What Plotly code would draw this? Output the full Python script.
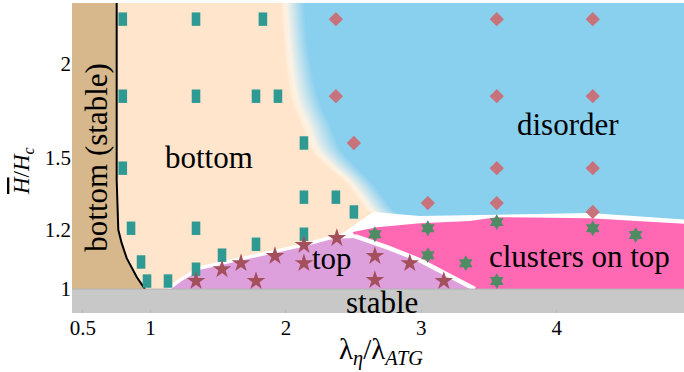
import numpy as np
import plotly.graph_objects as go

# ---- axes -------------------------------------------------------------
x_range = [0.42, 4.94]
y_range = [0.929, 2.413]          # log axis
x_ticks = [0.5, 1, 2, 3, 4]
x_ticktext = ["0.5", "1", "2", "3", "4"]
y_ticks = [1, 1.2, 1.5, 2]
y_ticktext = ["1", "1.2", "1.5", "2"]

# ---- simulation points, grouped by observed state ---------------------
bottom_x = [0.795, 1.336, 1.830, 0.795, 1.336, 1.779, 1.941, 0.795, 2.133, 2.133,
            2.369, 2.502, 0.856, 1.336, 2.133, 1.779, 1.528, 0.930, 1.336, 0.974, 1.129]
bottom_y = [2.296, 2.296, 2.296, 1.811, 1.811, 1.811, 1.811, 1.451, 1.568, 1.327,
            1.327, 1.268, 1.206, 1.206, 1.184, 1.148, 1.110, 1.087, 1.063, 1.025, 1.025]

disorder_x = [2.369, 3.557, 4.266, 2.369, 3.557, 4.266, 2.502, 3.557, 4.266, 3.048, 3.557, 4.266]
disorder_y = [2.296, 2.296, 2.296, 1.811, 1.811, 1.811, 1.568, 1.451, 1.451, 1.303, 1.303, 1.268]

top_x = [1.336, 1.528, 1.668, 1.779, 1.919, 2.133, 2.376, 2.133, 2.657, 2.657, 2.915, 3.166]
top_y = [1.025, 1.063, 1.083, 1.025, 1.107, 1.145, 1.170, 1.083, 1.107, 1.028, 1.083, 1.025]

cluster_x = [2.657, 3.048, 3.048, 3.328, 3.557, 3.557, 4.266, 4.583]
cluster_y = [1.184, 1.206, 1.110, 1.083, 1.229, 1.025, 1.206, 1.181]

# ---- phase boundaries -------------------------------------------------
# stable-bottom / bottom (black line)
stable_x = [0.750, 0.750, 0.762, 0.787, 0.824, 0.898, 0.959]
stable_y = [2.600, 1.400, 1.200, 1.152, 1.100, 1.038, 1.000]

# bottom -> disorder crossover (inner and outer edge of the blended zone)
cross_y = [2.600, 2.087, 1.789, 1.657, 1.534, 1.377, 1.275, 1.259]
cross_inner_x = [1.957, 1.993, 2.044, 2.118, 2.192, 2.458, 2.598, 2.642]
cross_outer_x = [2.125, 2.162, 2.244, 2.325, 2.406, 2.649, 2.790, 2.827]

# "top" region outline (upper edge, then edge shared with clusters)
top_edge_x = [1.129, 1.218, 1.365, 1.565, 1.734, 1.956, 2.125, 2.347, 2.509]
top_edge_y = [1.000, 1.028, 1.067, 1.087, 1.104, 1.128, 1.145, 1.174, 1.177]
split_x = [2.509, 2.745, 2.989, 3.232, 3.395]
split_y = [1.177, 1.138, 1.093, 1.038, 1.000]

# "clusters on top" upper edge
cluster_edge_x = [2.494, 2.672, 2.989, 3.358, 3.557, 4.244, 5.000]
cluster_edge_y = [1.192, 1.210, 1.225, 1.233, 1.248, 1.244, 1.221]

# lower edge of the disorder region (white gap above the clusters)
disorder_edge_x = [2.642, 2.989, 3.358, 4.244, 5.000]
disorder_edge_y = [1.268, 1.252, 1.256, 1.264, 1.237]

# ---- colours ----------------------------------------------------------
PEACH = (255, 229, 204)
BLUE = (137, 207, 238)
TAN = "#D6B88C"
PLUM = "#DDA0DD"
PINK = "#FF69B4"
GRAY = "#C8C8C8"
TEAL = "#2E9A93"
DIAMOND = "#C8737B"
STAR = "#A3505C"
HEX = "#4F8C64"
SERIF = "Liberation Serif"

XL, XR, YB, YT = 0.3, 5.2, 0.85, 2.6


def blend(t):
    stops = [(0.0, (255, 236, 214)), (0.18, (252, 243, 229)),
             (0.55, (198, 227, 238)), (1.0, BLUE)]
    for (t0, c0), (t1, c1) in zip(stops[:-1], stops[1:]):
        if t <= t1:
            f = (t - t0) / (t1 - t0)
            c = [round(a + f * (b - a)) for a, b in zip(c0, c1)]
            return "rgb({},{},{})".format(*c)
    return "rgb({},{},{})".format(*BLUE)


def area(xs, ys, color, shape="linear"):
    return go.Scatter(x=xs, y=ys, mode="lines", fill="toself", fillcolor=color,
                      line=dict(width=0, color=color, shape=shape),
                      hoverinfo="skip", showlegend=False)


def line(xs, ys, color, width):
    return go.Scatter(x=xs, y=ys, mode="lines", line=dict(color=color, width=width),
                      hoverinfo="skip", showlegend=False)


fig = go.Figure()

# disorder region, blended into "bottom" across the crossover zone
n_bands = 16
for k in range(n_bands):
    t = k / (n_bands - 1)
    cx = [a + t * (b - a) for a, b in zip(cross_inner_x, cross_outer_x)]
    xs = cx + [cx[-1], XR, XR]
    ys = cross_y + [1.19, 1.19, YT]
    fig.add_trace(area(xs, ys, blend(t), shape="spline"))

# white gap between disorder and the lower phases
gap_x = [2.376, 2.642] + disorder_edge_x[1:] + [5.0, 2.841, 2.509]
gap_y = [1.174, 1.268] + disorder_edge_y[1:] + [1.128, 1.128, 1.163]
fig.add_trace(area(gap_x, gap_y, "white"))

# "top" phase
fig.add_trace(area(top_edge_x + split_x[1:], top_edge_y + split_y[1:], PLUM))

# "clusters on top" phase
cl_x = cluster_edge_x + [5.0, 5.0] + split_x[::-1]
cl_y = cluster_edge_y + [1.0, 1.0] + split_y[::-1]
fig.add_trace(area(cl_x, cl_y, PINK))

# white borders around the "top" phase
fig.add_trace(line(top_edge_x, top_edge_y, "white", 3.5))
fig.add_trace(line(split_x, split_y, "white", 4.5))

# stable bottom region and its boundary
fig.add_trace(area([XL] + stable_x + [XL], [YT] + stable_y + [1.0], TAN))
fig.add_trace(line(stable_x, stable_y, "black", 2))

# stable band below H/Hc = 1
fig.add_trace(area([XL, XR, XR, XL], [YB, YB, 1.0, 1.0], GRAY))
fig.add_trace(line([XL, XR], [1.0, 1.0], "#B4B4B4", 1))

# simulation markers
fig.add_trace(go.Scatter(x=bottom_x, y=bottom_y, mode="markers", showlegend=False,
                         hoverinfo="skip",
                         marker=dict(symbol="line-ns", size=9.6,
                                     line=dict(width=8.6, color=TEAL))))
fig.add_trace(go.Scatter(x=disorder_x, y=disorder_y, mode="markers", showlegend=False,
                         hoverinfo="skip",
                         marker=dict(symbol="diamond", size=11, color=DIAMOND,
                                     line=dict(width=0))))
fig.add_trace(go.Scatter(x=top_x, y=top_y, mode="markers", showlegend=False,
                         hoverinfo="skip",
                         marker=dict(symbol="star", size=14, color=STAR,
                                     line=dict(width=0))))
fig.add_trace(go.Scatter(x=cluster_x, y=cluster_y, mode="markers", showlegend=False,
                         hoverinfo="skip",
                         marker=dict(symbol="hexagram", size=12, color=HEX,
                                     line=dict(width=0))))

# region labels (y given in log10 units for the log axis)
labels = [
    ("bottom", 1.432, 1.501, 0),
    ("disorder", 4.081, 1.662, 0),
    ("top", 2.339, 1.100, 0),
    ("clusters on top", 4.170, 1.104, 0),
    ("stable", 2.706, 0.961, 0),
    ("bottom (stable)", 0.605, 1.499, -90),
]
for text, lx, ly, ang in labels:
    fig.add_annotation(x=lx, y=np.log10(ly), text=text, showarrow=False,
                       textangle=ang, xanchor="center", yanchor="middle",
                       font=dict(family=SERIF, size=31, color="black"))

# axis titles
fig.add_annotation(xref="paper", yref="paper", x=0.505, y=-0.125,
                   xanchor="center", yanchor="middle",
                   text="λ<sub><i>η</i></sub>/λ<sub><i>ATG</i></sub>",
                   showarrow=False, font=dict(family=SERIF, size=29, color="black"))
fig.add_annotation(xref="paper", yref="paper", x=-0.08, y=0.458, textangle=-90,
                   xanchor="center", yanchor="middle",
                   text='<span style="text-decoration:overline"><i>H</i></span>/<i>H</i><sub><i>c</i></sub>',
                   showarrow=False, font=dict(family=SERIF, size=23, color="black"))

fig.update_layout(
    width=684, height=372,
    margin=dict(l=72, r=0, t=3, b=59),
    paper_bgcolor="white",
    plot_bgcolor="rgb({},{},{})".format(*PEACH),
    font=dict(family=SERIF),
    xaxis=dict(range=x_range, tickvals=x_ticks, ticktext=x_ticktext,
               showgrid=False, zeroline=False, showline=False,
               ticks="inside", ticklen=3, tickcolor="#B8B8B8",
               tickfont=dict(family=SERIF, size=21, color="black")),
    yaxis=dict(type="log", range=[np.log10(y_range[0]), np.log10(y_range[1])],
               tickvals=y_ticks, ticktext=y_ticktext,
               showgrid=False, zeroline=False, showline=False, ticks="",
               tickfont=dict(family=SERIF, size=21, color="black")),
)

fig.write_html("out.html")
